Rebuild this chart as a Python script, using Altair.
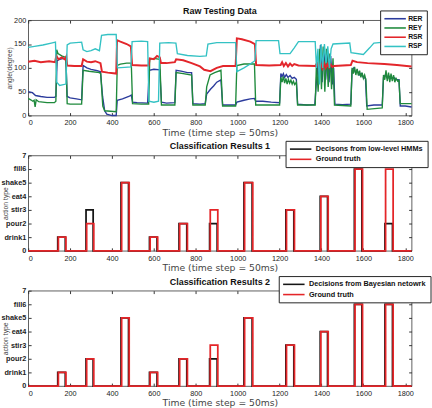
import altair as alt
import pandas as pd

FONT = "Liberation Sans"
TITLE_FONT = "DejaVu Sans"

# ---------------- raw joint-angle traces: (time step, angle in degrees) ----------------
rer = [(0, 50), (20, 48), (35, 42), (60, 40), (90, 38), (125, 38), (132, 40), (138, 115), (150, 118),
       (170, 120), (180, 118), (186, 40), (200, 37), (230, 35), (255, 33), (262, 105), (280, 100),
       (300, 97), (330, 94), (345, 92), (355, 40), (365, 10), (375, 3), (400, 0), (420, 0), (425, 32),
       (450, 35), (480, 40), (492, 43), (498, 28), (520, 27), (570, 26), (578, 95), (600, 97), (628, 96),
       (636, 28), (660, 26), (700, 27), (706, 95), (730, 93), (760, 90), (780, 90), (786, 25), (820, 24),
       (845, 25), (852, 45), (870, 55), (885, 62), (900, 70), (920, 75), (928, 22), (960, 22), (990, 22),
       (996, 28), (1030, 32), (1060, 35), (1080, 36), (1086, 30), (1120, 30), (1160, 28), (1200, 27),
       (1206, 88), (1212, 82), (1218, 88), (1224, 80), (1232, 86), (1240, 80), (1250, 84), (1260, 78),
       (1270, 80), (1280, 76), (1286, 24), (1330, 22), (1368, 23), (1374, 60), (1380, 105), (1388, 70),
       (1395, 148), (1403, 70), (1411, 140), (1420, 75), (1428, 138), (1436, 70), (1444, 125), (1452, 65),
       (1458, 100), (1464, 24), (1500, 23), (1540, 24), (1546, 95), (1554, 100), (1562, 90), (1570, 95),
       (1580, 85), (1590, 88), (1600, 80), (1610, 78), (1616, 20), (1650, 22), (1690, 22), (1696, 80),
       (1705, 85), (1715, 78), (1725, 82), (1735, 78), (1745, 80), (1755, 76), (1770, 75), (1776, 20),
       (1800, 20), (1830, 18)]

rey = [(0, 36), (12, 33), (22, 30), (28, 32), (33, 18), (38, 33), (50, 29), (90, 27), (125, 27), (132, 30),
       (136, 138), (142, 130), (160, 125), (180, 122), (186, 25), (200, 24), (255, 24), (262, 95), (290, 93),
       (340, 90), (346, 88), (356, 20), (365, 10), (420, 8), (425, 105), (440, 108), (470, 110), (492, 110),
       (498, 25), (540, 24), (575, 24), (580, 118), (600, 120), (628, 118), (636, 22), (700, 22), (706, 90),
       (740, 88), (780, 85), (786, 22), (845, 22), (852, 60), (868, 85), (890, 90), (920, 95), (928, 20),
       (990, 20), (996, 105), (1030, 108), (1080, 108), (1086, 22), (1200, 22), (1206, 80), (1212, 70),
       (1218, 82), (1224, 68), (1230, 78), (1236, 66), (1242, 76), (1248, 68), (1254, 74), (1260, 66),
       (1266, 72), (1272, 65), (1280, 70), (1286, 22), (1370, 22), (1376, 110), (1384, 50), (1392, 140),
       (1400, 55), (1408, 145), (1416, 50), (1424, 140), (1432, 60), (1440, 130), (1448, 55), (1455, 120),
       (1462, 22), (1540, 20), (1546, 100), (1552, 88), (1558, 102), (1564, 85), (1570, 98), (1576, 84),
       (1582, 94), (1588, 80), (1594, 90), (1600, 78), (1606, 85), (1612, 75), (1618, 13), (1690, 16),
       (1696, 85), (1702, 75), (1708, 95), (1714, 72), (1720, 90), (1726, 70), (1732, 88), (1738, 72),
       (1744, 85), (1750, 70), (1756, 78), (1764, 72), (1770, 74), (1776, 25), (1830, 25)]

rsr = [(0, 113), (30, 115), (60, 112), (100, 114), (128, 112), (134, 125), (145, 118), (160, 122),
       (175, 118), (182, 124), (186, 105), (220, 104), (255, 104), (262, 118), (280, 113), (300, 112),
       (320, 114), (345, 110), (352, 92), (380, 90), (420, 88), (424, 158), (440, 155), (470, 150),
       (490, 145), (496, 106), (540, 105), (575, 105), (580, 120), (600, 118), (615, 125), (628, 122),
       (634, 110), (660, 110), (700, 112), (706, 118), (740, 116), (780, 110), (820, 103), (840, 96),
       (870, 93), (900, 100), (930, 104), (990, 104), (996, 162), (1020, 160), (1060, 155), (1082, 150),
       (1088, 106), (1150, 105), (1205, 106), (1212, 112), (1220, 104), (1230, 110), (1240, 103),
       (1250, 109), (1260, 104), (1270, 108), (1290, 105), (1370, 104), (1380, 110), (1388, 100),
       (1396, 109), (1404, 99), (1412, 110), (1420, 100), (1428, 108), (1436, 101), (1444, 107),
       (1452, 102), (1460, 104), (1540, 106), (1548, 115), (1570, 112), (1620, 110), (1700, 108),
       (1760, 106), (1830, 103)]

rsp = [(0, 143), (30, 145), (70, 148), (110, 152), (130, 154), (136, 70), (150, 63), (180, 66), (186, 148),
       (200, 152), (255, 154), (262, 138), (280, 134), (300, 136), (320, 140), (340, 136), (350, 168),
       (380, 170), (420, 170), (426, 100), (460, 101), (490, 102), (496, 155), (540, 156), (570, 155),
       (576, 30), (600, 28), (622, 30), (628, 152), (670, 153), (705, 152), (712, 130), (760, 126),
       (820, 124), (850, 125), (858, 150), (900, 153), (990, 153), (996, 92), (1030, 100), (1060, 108),
       (1082, 115), (1088, 157), (1150, 157), (1195, 157), (1202, 130), (1250, 130), (1270, 142),
       (1290, 155), (1370, 155), (1376, 100), (1383, 140), (1390, 65), (1398, 150), (1406, 100),
       (1414, 150), (1422, 110), (1430, 145), (1438, 100), (1446, 140), (1455, 150), (1535, 152),
       (1541, 132), (1600, 128), (1630, 142), (1650, 152), (1700, 154), (1830, 155)]

raw_names = ["RER", "REY", "RSR", "RSP"]
raw_colors = ["#2b3b9c", "#1f8a3c", "#e3262b", "#34c2c4"]

# ---------------- action segments (start, end in time steps; action level) ----------------
truth_start = [144, 279, 446, 582, 723, 869, 1033, 1233, 1397, 1560, 1706]
truth_end = [180, 313, 482, 618, 760, 905, 1072, 1271, 1432, 1596, 1742]
truth_level = [1, 2, 5, 1, 2, 3, 5, 3, 4, 6, 6]

dec_start = [141, 276, 443, 579, 720, 866, 1030, 1230, 1394, 1557, 1703]
dec_end = [177, 310, 479, 615, 757, 902, 1069, 1268, 1429, 1593, 1739]
hmm_level = [1, 3, 5, 1, 2, 2, 5, 3, 4, 6, 2]
bayes_level = [1, 2, 5, 1, 2, 2, 5, 3, 4, 6, 6]

action_names = ["drink", "pour", "stir", "eat", "shake", "fill"]

X_DOMAIN = [0, 1830]
X_TICKS = list(range(0, 1801, 200))
RAW_TICKS = [0, 50, 100, 150, 200]
ACTION_TICKS = list(range(8))
BLACK = "#151515"
RED = "#e42528"
W, H = 394, 98

# y tick labels of the action panels: "drink1", "pour2", ...
action_label_expr = " : ".join(
    f"datum.value == {i + 1} ? '{n}{i + 1}'" for i, n in enumerate(action_names)
) + " : datum.label"

x_scale = alt.Scale(domain=X_DOMAIN, nice=False, zero=False)


def x_enc(field):
    return alt.X(f"{field}:Q", scale=x_scale,
                 axis=alt.Axis(values=X_TICKS, format="d", title="Time (time step = 50ms)"))


def panel_title(text, baseline_y):
    # drawn as a text mark so the legend box rising above the plot does not push it up
    return alt.Chart(pd.DataFrame({"label": [text]})).mark_text(
        font=FONT, fontSize=9.2, fontWeight="bold", color="#111", align="center", baseline="alphabetic"
    ).encode(x=alt.value(W / 2), y=alt.value(baseline_y), text="label:N")


def frame_ticks(df, x_field, y_field, y_scale, y_ticks):
    # invisible layer that carries the inward tick marks on the top and right edges
    return alt.Chart(df).mark_point(opacity=0, size=0).encode(
        x=alt.X(f"{x_field}:Q", scale=x_scale,
                axis=alt.Axis(orient="top", values=X_TICKS, labels=False, title=None)),
        y=alt.Y(f"{y_field}:Q", scale=y_scale,
                axis=alt.Axis(orient="right", values=y_ticks, labels=False, title=None)),
    )


def legend(x, y, font_size, sym_off, lab_off, row_pad):
    return alt.Legend(title=None, orient="none", legendX=x, legendY=y, direction="vertical",
                      padding=4, rowPadding=row_pad, fillColor="white", strokeColor="#222",
                      cornerRadius=0, symbolType="M-3,0H3", symbolSize=54, symbolStrokeWidth=1.6,
                      symbolOffset=sym_off, labelOffset=lab_off, labelFontSize=font_size,
                      labelFontWeight="bold", labelFont=FONT, labelColor="#111", labelLimit=300)


raw_df = pd.DataFrame([{"series": n, "t": t, "angle": v}
                       for n, pts in zip(raw_names, [rer, rey, rsr, rsp]) for t, v in pts])
raw_y_scale = alt.Scale(domain=[0, 200], nice=False)

raw_lines = alt.Chart(raw_df).mark_line().encode(
    x=x_enc("t"),
    y=alt.Y("angle:Q", scale=raw_y_scale,
            axis=alt.Axis(values=RAW_TICKS, title="angle(degree)",
                          titleX=-22, titleBaseline="middle")),
    color=alt.Color("series:N", sort=raw_names,
                    scale=alt.Scale(domain=raw_names, range=raw_colors),
                    legend=legend(361.7, -10, 7, 6.9, 8.9, 1.5)),
    strokeWidth=alt.condition(alt.datum.series == "RSR", alt.value(2.0), alt.value(1.4)),
)
raw = alt.layer(
    raw_lines, frame_ticks(raw_df, "t", "angle", raw_y_scale, RAW_TICKS),
    panel_title("Raw Testing Data", -6.5)
).resolve_axis(x="independent", y="independent").properties(width=W, height=H)


def step_rows(label, starts, ends, levels):
    pts = [(0, 0)]
    for s, e, v in zip(starts, ends, levels):
        pts += [(s, 0), (s, v), (e, v), (e, 0)]
    pts.append((X_DOMAIN[1], 0))
    return [{"series": label, "i": k, "t": t, "level": v} for k, (t, v) in enumerate(pts)]


def class_panel(title_text, dec_label, dec_levels, lx, title_y):
    df = pd.DataFrame(step_rows(dec_label, dec_start, dec_end, dec_levels)
                      + step_rows("Ground truth", truth_start, truth_end, truth_level))
    y_scale = alt.Scale(domain=[0, 7], nice=False)
    lines = alt.Chart(df).mark_line(strokeWidth=1.8).encode(
        x=x_enc("t"),
        y=alt.Y("level:Q", scale=y_scale,
                axis=alt.Axis(values=ACTION_TICKS, title="action type", labelExpr=action_label_expr,
                              labelFontWeight="bold", titleX=-26, titleBaseline="middle")),
        color=alt.Color("series:N", sort=[dec_label, "Ground truth"],
                        scale=alt.Scale(domain=[dec_label, "Ground truth"], range=[BLACK, RED]),
                        legend=legend(lx, -15, 7.5, 7.0, 11.0, 2.5)),
        order=alt.Order("i:Q"),
    )
    return alt.layer(
        lines, frame_ticks(df, "t", "level", y_scale, ACTION_TICKS), panel_title(title_text, title_y)
    ).resolve_axis(x="independent", y="independent").properties(width=W, height=H)


p2 = class_panel("Classification Results 1", "Decisons from low-level HMMs", hmm_level, 264.5, -6.7)
p3 = class_panel("Classification Results 2", "Decisions from Bayesian netowrk", bayes_level, 257.5, -5.7)

chart = alt.vconcat(raw, p2, p3, spacing=41, bounds="flush").resolve_scale(
    color="independent", y="independent", x="independent"
).properties(
    padding={"left": 0, "top": 1, "right": 0, "bottom": 0}, background="white"
).configure_view(
    stroke="#333", strokeWidth=0.8
).configure_axis(
    domain=False, grid=False, ticks=True, tickSize=3, tickColor="#333", offset=-3,
    labelFont=FONT, labelFontSize=7.5, labelColor="#222", labelOverlap=False,
    titleFont=TITLE_FONT, titleFontWeight="normal", titleColor="#444",
).configure_axisX(
    labelPadding=3.5, titlePadding=1.5, titleFontSize=9.5,
).configure_axisY(
    labelPadding=2.5, titleFontSize=7, titleFont=FONT,
)

chart.save("out.html", embed_options={"renderer": "svg", "actions": False})
